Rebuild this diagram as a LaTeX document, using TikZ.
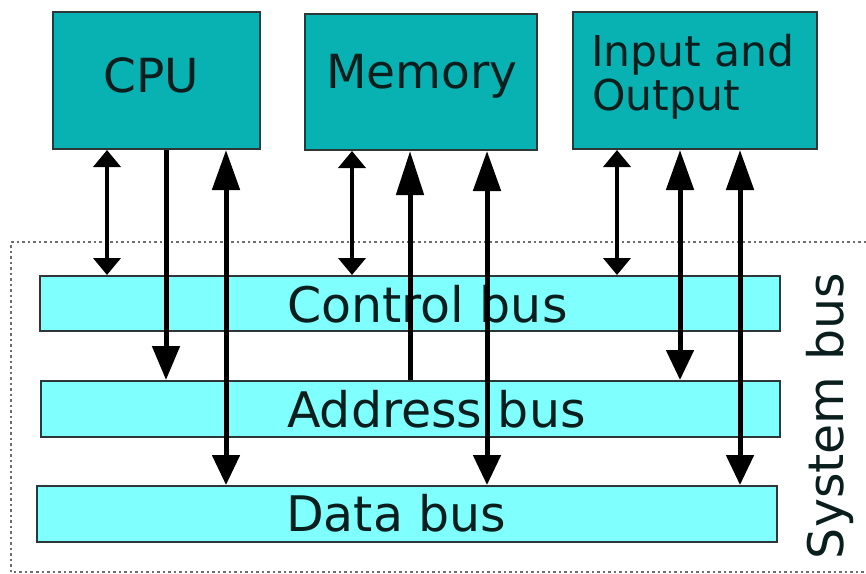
\documentclass[tikz,border=0pt]{standalone}
\usepackage{fontspec}
\setmainfont{DejaVu Sans}
\usetikzlibrary{arrows.meta}
\definecolor{unitfill}{RGB}{8,178,178}
\definecolor{busfill}{RGB}{128,255,255}
\definecolor{edgecol}{RGB}{45,55,55}
\definecolor{dotcol}{RGB}{110,110,110}
\definecolor{txtcol}{RGB}{10,30,30}
\tikzset{
  unitbox/.style={draw=edgecol, line width=2pt, fill=unitfill, inner sep=0pt},
  busbox/.style={draw=edgecol, line width=2pt, fill=busfill, inner sep=0pt, minimum height=56pt},
  bigtxt/.style={inner sep=0pt, text=txtcol, font=\fontsize{47}{52}\selectfont},
  iotxt/.style={inner sep=0pt, text=txtcol, font=\fontsize{42.5}{45}\selectfont, anchor=base west},
  bustxt/.style={inner sep=0pt, text=txtcol, font=\fontsize{49}{52}\selectfont, anchor=base west},
  smallarr/.style={line width=4pt, {Triangle[length=17pt,width=27pt]}-{Triangle[length=17pt,width=27pt]}},
  bigboth/.style={line width=5pt, {Triangle[length=40pt,width=27pt]}-{Triangle[length=30pt,width=27pt]}},
  bigdown/.style={line width=5pt, -{Triangle[length=34pt,width=27pt]}},
  bigup/.style={line width=5pt, -{Triangle[length=44pt,width=27pt]}},
  sysbox/.style={draw=dotcol, line width=2pt, dash pattern=on 2.5pt off 3pt},
}
\begin{document}
\begin{tikzpicture}[x=1pt, y=-1pt]
\useasboundingbox (0,0) rectangle (866,573);
% system bus dotted frame
\coordinate (f1) at (866,242);
\coordinate (f2) at (11,242);
\coordinate (f3) at (11,572);
\coordinate (f4) at (866,572);
\draw[sysbox] (f1) -- (f2) -- (f3) -- (f4);
% units
\node[unitbox, minimum width=207pt, minimum height=137pt] (cpu) at (156.5,80.5) {};
\node[unitbox, minimum width=232pt, minimum height=136pt] (mem) at (421,82) {};
\node[unitbox, minimum width=244pt, minimum height=137pt] (io) at (695,80.5) {};
\node[bigtxt, anchor=base] (cpul) at (151,92) {CPU};
\node[bigtxt, anchor=base] (meml) at (422,88) {Memory};
\node[iotxt] (iol1) at (591,66) {Input and};
\node[iotxt] (iol2) at (592,110) {Output};
% buses
\node[busbox, minimum width=740pt, minimum height=55pt] (ctl) at (410,303.5) {};
\node[busbox, minimum width=739pt] (adr) at (410.5,409) {};
\node[busbox, minimum width=740pt] (dat) at (407,514) {};
\node[bustxt] (ctll) at (287,322) {Control bus};
\node[bustxt] (adrl) at (287,427) {Address bus};
\node[bustxt] (datl) at (286,531) {Data bus};
\node[inner sep=0pt, text=txtcol, font=\fontsize{49}{52}\selectfont, rotate=90, anchor=base] (sysl) at (843,416) {System bus};
% columns
\coordinate (x1) at (107,0);
\coordinate (x2) at (166,0);
\coordinate (x3) at (226,0);
\coordinate (x4) at (352,0);
\coordinate (x5) at (410,0);
\coordinate (x6) at (487,0);
\coordinate (x7) at (617,0);
\coordinate (x8) at (680,0);
\coordinate (x9) at (740,0);
% connectors
\draw[smallarr] (cpu.south -| x1) -- (ctl.north -| x1);
\draw[bigdown] (cpu.south -| x2) -- (adr.north -| x2);
\draw[bigboth] (cpu.south -| x3) -- (dat.north -| x3);
\draw[smallarr] (mem.south -| x4) -- (ctl.north -| x4);
\draw[bigup] (adr.north -| x5) -- (mem.south -| x5);
\draw[bigboth] (mem.south -| x6) -- (dat.north -| x6);
\draw[smallarr] (io.south -| x7) -- (ctl.north -| x7);
\draw[bigboth] (io.south -| x8) -- (adr.north -| x8);
\draw[bigboth] (io.south -| x9) -- (dat.north -| x9);
\end{tikzpicture}
\end{document}
